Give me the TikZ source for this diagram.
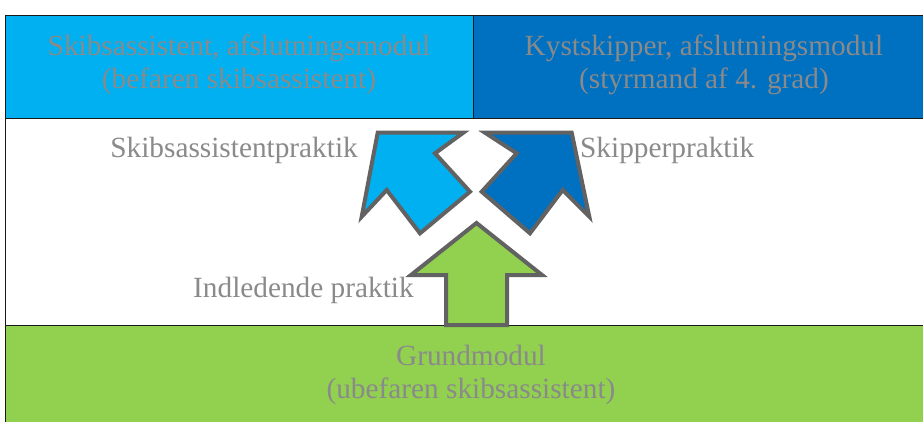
\documentclass[tikz,border=0pt]{standalone}
\usepackage{fontspec}
\setmainfont{Liberation Serif}
\usepackage{tikz}

\definecolor{lyseblaa}{HTML}{00B0F0}
\definecolor{moerkeblaa}{HTML}{0070C0}
\definecolor{groen}{HTML}{92D050}
\definecolor{tekstgraa}{HTML}{8A8A8A}
\definecolor{kantgraa}{HTML}{626262}

\begin{document}
\begin{tikzpicture}[x=1pt, y=-1pt,
	modul/.style={draw=black!90, line width=1.2pt, inner sep=0pt, anchor=north west},
	modultekst/.style={text=tekstgraa, align=center, font=\fontsize{29.3}{33}\selectfont},
	praktik/.style={text=tekstgraa, inner sep=0pt, font=\fontsize{29.3}{33}\selectfont},
	pil/.style={draw=kantgraa, line width=4pt, line join=miter}]
				\useasboundingbox (0, 0) rectangle (923, 421);
				\fill[white] (0, 0) rectangle (923, 421);
				% moduler
				\node [modul, fill=lyseblaa, minimum width=468pt, minimum height=103pt] (skibsafsl) at (5, 15) {};
				\node [modul, fill=moerkeblaa, minimum width=470pt, minimum height=103pt] (kystafsl) at (473, 15) {};
				\node [modul, fill=white, minimum width=938pt, minimum height=207pt] (midt) at (5, 118) {};
				\node [modul, fill=groen, minimum width=938pt, minimum height=110pt] (grund) at (5, 325) {};
				\node [modultekst] (skibstekst) at (239, 64.5) {Skibsassistent, afslutningsmodul\\(befaren skibsassistent)};
				\node [modultekst] (kysttekst) at (704, 64.5) {Kystskipper, afslutningsmodul\\(styrmand af 4. grad)};
				\node [modultekst] (grundtekst) at (471, 374.5) {Grundmodul\\(ubefaren skibsassistent)};
				% pile
				\draw [pil, fill=lyseblaa] (377.7, 132.7) -- (463.3, 132.7) -- (435, 153.3) -- (470, 191.7) -- (420, 233.3) -- (386.7, 190) -- (361.7, 216.7) -- cycle;
				\draw [pil, fill=moerkeblaa] (571.7, 132.7) -- (485, 132.7) -- (516.7, 153.3) -- (481.7, 191.7) -- (530, 233.3) -- (562.7, 190) -- (589.3, 216.7) -- cycle;
				\draw [pil, fill=groen] (476.5, 223) -- (542, 275) -- (507, 275) -- (507, 325) -- (446, 325) -- (446, 275) -- (411, 275) -- cycle;
				% praktik
				\node [praktik, anchor=base east] (skibspraktik) at (358, 157) {Skibsassistentpraktik};
				\node [praktik, anchor=base west] (skipperpraktik) at (580, 157) {Skipperpraktik};
				\node [praktik, anchor=base west] (indledende) at (193, 297) {Indledende praktik};
				\end{tikzpicture}
\end{document}
